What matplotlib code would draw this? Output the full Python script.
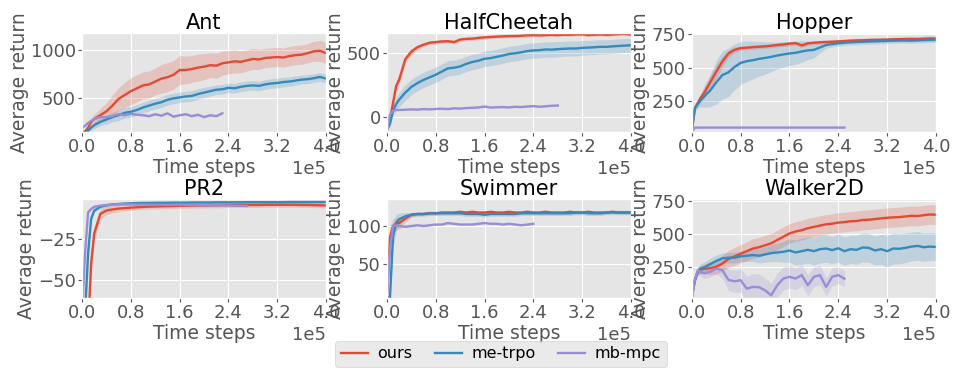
import numpy as np
import matplotlib
matplotlib.use("Agg")
import matplotlib.pyplot as plt

plt.style.use("ggplot")

# shared time grid (units of 1e5 steps)
steps = [0.0, 0.05, 0.1, 0.15, 0.2, 0.3, 0.4, 0.5, 0.6, 0.7, 0.8, 0.9, 1.0,
         1.1, 1.2, 1.3, 1.4, 1.5, 1.6, 1.7, 1.8, 1.9, 2.0, 2.1, 2.2, 2.3,
         2.4, 2.5, 2.6, 2.7, 2.8, 2.9, 3.0, 3.1, 3.2, 3.3, 3.4, 3.5, 3.6,
         3.7, 3.8, 3.9, 4.0]

methods = ["ours", "me-trpo", "mb-mpc"]
colors = ["#E24A33", "#348ABD", "#988ED5"]
envs = ["Ant", "HalfCheetah", "Hopper", "PR2", "Swimmer", "Walker2D"]

# ---- Ant
ant_ours = [140, 150, 190, 250, 280, 320, 360, 420, 490, 530, 570, 600, 630,
            640, 670, 700, 715, 740, 790, 790, 800, 815, 825, 840, 835, 860,
            870, 880, 875, 890, 905, 900, 915, 920, 925, 920, 935, 945, 950,
            965, 985, 990, 965]
ant_ours_sd = [20, 25, 30, 40, 50, 70, 90, 110, 120, 130, 140, 140, 140,
               140, 140, 150, 150, 150, 150, 145, 140, 140, 135, 130, 130, 125,
               120, 120, 115, 110, 110, 105, 100, 100, 100, 100, 100, 100, 100,
               100, 105, 110, 110]
ant_trpo = [140, 145, 160, 190, 215, 250, 275, 300, 320, 345, 355, 375, 400,
            420, 440, 455, 480, 495, 505, 515, 520, 540, 555, 570, 585, 590,
            605, 600, 615, 625, 630, 625, 640, 650, 655, 665, 670, 680, 690,
            695, 705, 718, 700]
ant_trpo_sd = [15, 20, 25, 30, 35, 40, 45, 50, 55, 55, 55, 55, 55,
               55, 55, 55, 55, 55, 55, 55, 55, 55, 55, 50, 50, 50,
               50, 50, 50, 50, 50, 50, 50, 50, 50, 50, 48, 48, 46,
               46, 45, 45, 45]
ant_mpc = [190, 210, 240, 260, 280, 300, 300, 310, 330, 320, 335, 325, 320,
           310, 330, 315, 340, 305, 320, 330, 310, 325, 300, 320, 310, 340]
ant_mpc_sd = [10] * 26

# ---- HalfCheetah
hc_ours = [-100, -20, 110, 240, 290, 450, 510, 545, 565, 580, 585, 590, 592,
           585, 605, 610, 612, 618, 622, 625, 628, 630, 632, 633, 635, 638,
           640, 638, 640, 642, 640, 643, 642, 645, 646, 640, 643, 645, 642,
           645, 648, 650, 643]
hc_ours_sd = [10, 30, 40, 45, 40, 30, 25, 20, 15, 15, 15, 15, 15,
              15, 15, 14, 14, 14, 14, 13, 13, 13, 13, 13, 13, 13,
              12, 12, 12, 12, 12, 12, 12, 12, 12, 12, 12, 12, 12,
              12, 12, 12, 12]
hc_trpo = [-100, -50, 50, 100, 135, 190, 235, 265, 290, 310, 330, 355, 380,
           385, 395, 415, 430, 440, 455, 460, 470, 480, 492, 498, 505, 515,
           520, 522, 528, 526, 530, 533, 535, 535, 540, 542, 545, 548, 548,
           552, 555, 558, 560]
hc_trpo_sd = [10, 30, 40, 50, 55, 60, 60, 60, 60, 60, 60, 60, 60,
              60, 60, 60, 60, 60, 60, 60, 60, 60, 60, 60, 60, 60,
              60, 60, 60, 60, 60, 58, 58, 58, 58, 56, 56, 56, 55,
              55, 55, 55, 55]
hc_mpc = [-100, 20, 50, 55, 55, 57, 60, 58, 62, 60, 63, 65, 62,
          68, 66, 70, 72, 75, 82, 74, 76, 78, 75, 80, 78, 82,
          85, 80, 84, 88, 90]
hc_mpc_sd = [5] * 31

# ---- Hopper
hop_ours = [30, 200, 240, 280, 310, 390, 470, 545, 605, 632, 645, 648, 652,
            655, 658, 662, 668, 672, 678, 682, 665, 680, 685, 688, 690, 692,
            695, 697, 700, 702, 703, 705, 706, 707, 708, 710, 711, 712, 713,
            712, 714, 716, 715]
hop_ours_sd = [5, 20, 25, 30, 40, 50, 50, 40, 30, 20, 15, 15, 15,
               15, 15, 15, 15, 15, 15, 15, 15, 15, 15, 15, 15, 15,
               15, 15, 15, 15, 15, 15, 15, 15, 15, 15, 15, 18, 18,
               18, 20, 20, 20]
hop_trpo = [30, 200, 230, 260, 285, 330, 390, 445, 465, 505, 535, 548, 555,
            565, 572, 580, 590, 598, 605, 610, 620, 628, 632, 650, 668, 675,
            680, 685, 688, 690, 692, 694, 695, 697, 698, 700, 701, 702, 700,
            703, 705, 707, 708]
hop_trpo_sd = [5, 20, 30, 50, 80, 120, 160, 180, 180, 170, 160, 150, 140,
               130, 120, 110, 100, 95, 90, 85, 80, 70, 60, 40, 25, 20,
               20, 20, 20, 20, 20, 20, 20, 20, 20, 20, 20, 20, 20,
               20, 20, 20, 20]
hop_mpc = [22, 55, 55, 55, 55, 55, 55, 55, 55, 55, 55, 55, 55,
           55, 55, 55, 55, 55, 55, 55, 55, 55, 55, 55, 55, 55,
           55, 55]
hop_mpc_sd = [2] * 28

# ---- PR2
pr2_ours = [-80, -80, -80, -40, -22, -10, -8, -7.3, -6.8, -6.5, -6.2, -6.0, -5.8,
            -5.6, -5.5, -5.4, -5.3, -5.2, -5.1, -5.0, -5.0, -4.9, -4.9, -4.8, -4.8, -4.7,
            -4.7, -4.6, -4.6, -4.6, -4.6, -4.6, -4.5, -4.5, -4.5, -4.5, -4.5, -4.5, -4.6,
            -4.6, -4.7, -4.8, -4.9]
pr2_ours_sd = [2, 2, 4, 5, 4, 3, 2.5, 2, 1.8, 1.6, 1.5, 1.5, 1.5,
               1.5, 1.5, 1.5, 1.5, 1.5, 1.5, 1.5, 1.5, 1.5, 1.5, 1.5, 1.5, 1.5,
               1.5, 1.5, 1.5, 1.5, 1.5, 1.5, 1.5, 1.5, 1.5, 1.5, 1.5, 1.5, 1.5,
               1.5, 1.5, 1.5, 1.5]
pr2_trpo = [-80, -70, -34, -13, -8, -5.7, -4.8, -4.3, -4.0, -3.8, -3.6, -3.5, -3.4,
            -3.4, -3.3, -3.3, -3.3, -3.2, -3.2, -3.2, -3.1, -3.1, -3.1, -3.1, -3.0, -3.0,
            -3.0, -3.0, -3.0, -2.9, -2.9, -2.9, -2.9, -2.9, -2.9, -2.9, -2.8, -2.8, -2.8,
            -2.8, -2.8, -2.8, -2.8]
pr2_trpo_sd = [1] * 43
pr2_mpc = [-70, -34, -9, -7, -5.7, -5.0, -4.6, -4.4, -4.2, -4.2, -4.2, -4.3, -4.3,
           -4.4, -4.4, -4.4, -4.5, -4.5, -4.4, -4.5, -4.6, -4.6, -4.7, -4.7, -4.8, -4.8,
           -4.9, -5.0, -5.1, -5.2]
pr2_mpc_sd = [0.5] * 30

# ---- Swimmer
sw_ours = [5, 85, 100, 103, 104, 110, 115, 116, 116, 117, 117, 118, 118,
           118, 119, 118, 119, 118, 118, 119, 118, 118, 119, 118, 118, 119,
           118, 118, 119, 118, 118, 118, 119, 118, 118, 119, 118, 118, 118,
           119, 118, 118, 118]
sw_ours_sd = [2, 15, 10, 8, 8, 5, 3, 2, 2, 2, 2, 2, 2,
              2, 2, 2, 2, 2, 2, 2, 2, 2, 2, 2, 2, 2,
              2, 2, 2, 2, 2, 2, 2, 2, 2, 2, 2, 2, 2,
              2, 2, 2, 2]
sw_trpo = [5, 5, 86, 104, 109, 113, 115, 116, 116, 117, 117, 117, 117,
           117, 117, 116, 116, 116, 115, 116, 116, 116, 116, 116, 117, 117,
           117, 117, 117, 117, 117, 117, 117, 118, 118, 117, 117, 117, 118,
           118, 118, 118, 118]
sw_trpo_sd = [2, 2, 15, 12, 8, 5, 3, 3, 3, 3, 3, 3, 3,
              3, 3, 3, 3, 3, 3, 3, 3, 3, 3, 3, 3, 3,
              3, 3, 3, 3, 3, 3, 3, 3, 3, 3, 3, 3, 3,
              3, 3, 3, 3]
sw_mpc = [5, 70, 100, 101, 100, 99, 100, 101, 100, 101, 102, 102, 104,
          103, 102, 102, 102, 103, 104, 103, 103, 102, 103, 102, 101, 102,
          103]
sw_mpc_sd = [1] * 27

# ---- Walker2D
wk_ours = [15, 150, 215, 230, 235, 240, 250, 275, 310, 330, 350, 370, 390,
           400, 415, 430, 455, 480, 505, 520, 530, 545, 555, 565, 575, 580,
           588, 592, 598, 600, 608, 610, 615, 620, 625, 628, 630, 635, 640,
           638, 645, 650, 648]
wk_ours_sd = [5, 20, 30, 32, 35, 50, 55, 60, 65, 68, 70, 72, 75,
              75, 75, 75, 75, 75, 75, 75, 75, 75, 75, 75, 75, 75,
              75, 75, 75, 75, 75, 75, 75, 75, 75, 75, 75, 75, 75,
              75, 75, 75, 75]
wk_trpo = [15, 150, 220, 240, 245, 270, 295, 315, 320, 320, 330, 335, 340,
           335, 345, 355, 360, 365, 375, 360, 370, 380, 370, 385, 390, 378,
           392, 370, 385, 380, 398, 395, 375, 385, 370, 390, 388, 395, 405,
           410, 400, 405, 402]
wk_trpo_sd = [5, 20, 30, 35, 40, 45, 45, 42, 40, 40, 40, 45, 50,
              55, 60, 65, 70, 80, 90, 95, 100, 100, 105, 105, 105, 105,
              108, 108, 108, 110, 110, 110, 110, 115, 120, 118, 115, 112, 110,
              110, 108, 106, 105]
wk_mpc = [15, 150, 225, 210, 200, 212, 237, 225, 150, 140, 148, 84, 97,
          95, 71, 33, 110, 161, 174, 161, 187, 110, 174, 187, 97, 174,
          187, 160]
wk_mpc_sd = [5, 20, 30, 35, 40, 40, 40, 60, 80, 85, 90, 95, 100,
             100, 95, 90, 90, 90, 85, 85, 80, 80, 75, 75, 70, 70,
             65, 60]

curves = {
    "Ant": [(ant_ours, ant_ours_sd), (ant_trpo, ant_trpo_sd), (ant_mpc, ant_mpc_sd)],
    "HalfCheetah": [(hc_ours, hc_ours_sd), (hc_trpo, hc_trpo_sd), (hc_mpc, hc_mpc_sd)],
    "Hopper": [(hop_ours, hop_ours_sd), (hop_trpo, hop_trpo_sd), (hop_mpc, hop_mpc_sd)],
    "PR2": [(pr2_ours, pr2_ours_sd), (pr2_trpo, pr2_trpo_sd), (pr2_mpc, pr2_mpc_sd)],
    "Swimmer": [(sw_ours, sw_ours_sd), (sw_trpo, sw_trpo_sd), (sw_mpc, sw_mpc_sd)],
    "Walker2D": [(wk_ours, wk_ours_sd), (wk_trpo, wk_trpo_sd), (wk_mpc, wk_mpc_sd)],
}
ylims = {"Ant": (145, 1175), "HalfCheetah": (-117, 656), "Hopper": (22, 757),
         "PR2": (-61, -1), "Swimmer": (4, 136), "Walker2D": (12, 768)}
yticks = {"Ant": [500, 1000], "HalfCheetah": [0, 500], "Hopper": [250, 500, 750],
          "PR2": [-50, -25], "Swimmer": [50, 100], "Walker2D": [250, 500, 750]}

fs = 13

fig, axes = plt.subplots(2, 3, figsize=(9.58, 3.73), dpi=100)
fig.subplots_adjust(left=0.0856, right=0.977, top=0.9115, bottom=0.201,
                    wspace=0.249, hspace=0.677)

x_all = np.array(steps) * 1e5
for ax, env in zip(axes.flat, envs):
    for (mean, sd), c, name in zip(curves[env], colors, methods):
        mean = np.array(mean, dtype=float)
        sd = np.array(sd, dtype=float)
        x = x_all[:len(mean)]
        ax.fill_between(x, mean - sd, mean + sd, color=c, alpha=0.22, lw=0)
        ax.plot(x, mean, color=c, lw=1.7, label=name)
    ax.set_xlim(0, 4e5)
    ax.set_ylim(*ylims[env])
    ax.set_xticks(np.arange(0, 4.01e5, 0.8e5))
    ax.set_yticks(yticks[env])
    ax.ticklabel_format(axis="x", style="sci", scilimits=(0, 0))
    ax.tick_params(labelsize=fs, colors="#555555", length=3, pad=1.5)
    ax.xaxis.get_offset_text().set_fontsize(fs)
    ax.xaxis.get_offset_text().set_color("#555555")
    ax.set_title(env, fontsize=15, color="black", pad=3)
    ax.set_xlabel("Time steps", fontsize=13.5, color="#555555", labelpad=1)
    ax.set_ylabel("Average return", fontsize=13.5, color="#555555", labelpad=1)

handles, labels = axes[0, 0].get_legend_handles_labels()
fig.legend(handles, labels, loc="center", bbox_to_anchor=(0.523, 0.051), ncol=3,
           fontsize=11.5, handlelength=1.7, handletextpad=0.6, columnspacing=1.4,
           borderpad=0.35)

fig.savefig("out.png", dpi=100)
